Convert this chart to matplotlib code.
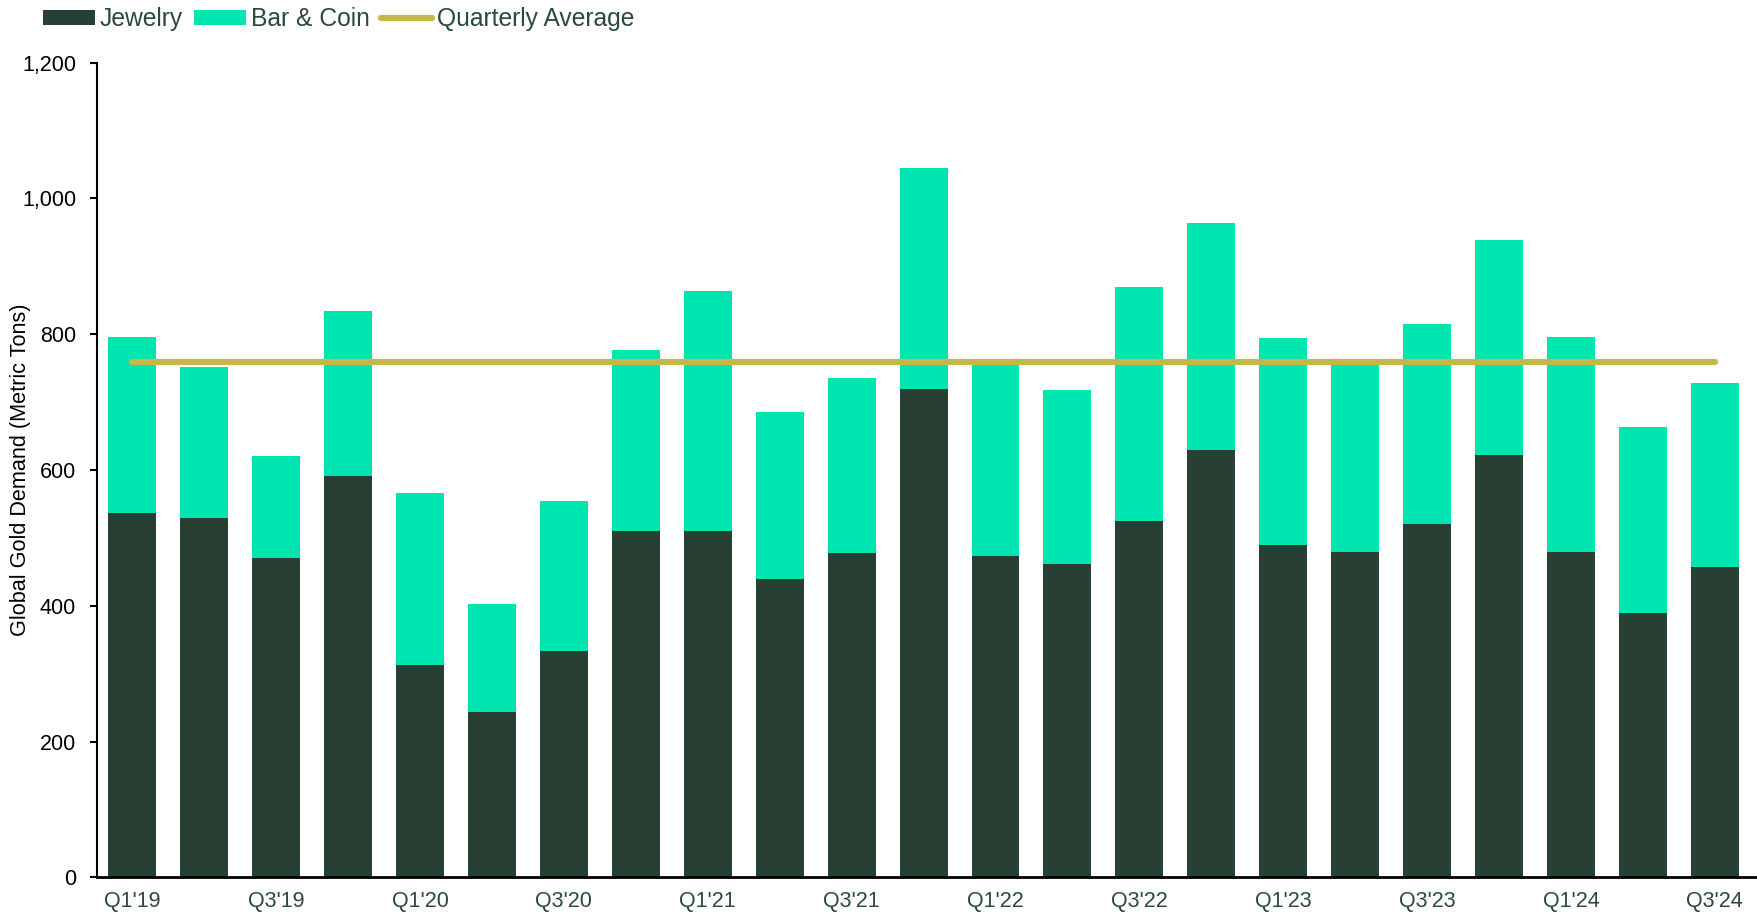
import numpy as np
import matplotlib.pyplot as plt
from matplotlib.ticker import FuncFormatter

plt.rcParams['font.family'] = ['Liberation Sans', 'DejaVu Sans']

quarters = ["Q1'19", "Q2'19", "Q3'19", "Q4'19",
            "Q1'20", "Q2'20", "Q3'20", "Q4'20",
            "Q1'21", "Q2'21", "Q3'21", "Q4'21",
            "Q1'22", "Q2'22", "Q3'22", "Q4'22",
            "Q1'23", "Q2'23", "Q3'23", "Q4'23",
            "Q1'24", "Q2'24", "Q3'24"]
jewelry = [536, 530, 470, 591, 312, 243, 333, 510, 510, 439, 477, 720,
           474, 461, 525, 629, 489, 479, 520, 622, 479, 390, 457]
total = [796, 751, 621, 834, 566, 403, 555, 777, 863, 685, 736, 1045,
         758, 718, 870, 964, 794, 757, 815, 939, 796, 664, 728]
bar_coin = [t - j for t, j in zip(total, jewelry)]
avg = 759

dark = '#283f33'
mint = '#00e6b0'
gold = '#c4b84a'
txt = '#2b4a3a'

fig = plt.figure(figsize=(17.58, 9.15), dpi=100)
ax = fig.add_axes([0.0552, 0.0412, 0.9448, 0.8903])

x = np.arange(len(quarters))
b1 = ax.bar(x, jewelry, width=0.667, color=dark, label='Jewelry', zorder=2)
b2 = ax.bar(x, bar_coin, width=0.667, bottom=jewelry, color=mint, label='Bar & Coin', zorder=2)
ln, = ax.plot([x[0], x[-1]], [avg, avg], color=gold, lw=4.5, solid_capstyle='round',
              label='Quarterly Average', zorder=3)

ax.set_xlim(-0.49, 22.6)
ax.set_ylim(0, 1200)
ax.set_yticks(range(0, 1201, 200))
ax.yaxis.set_major_formatter(FuncFormatter(lambda v, p: f'{int(v):,}'))
ax.set_xticks(x[::2])
ax.set_xticklabels(quarters[::2])

for s in ['top', 'right']:
    ax.spines[s].set_visible(False)
ax.spines['left'].set_linewidth(1.5)
ax.spines['bottom'].set_linewidth(2)
ax.tick_params(axis='y', labelsize=15.5, length=5, width=1.5, pad=10, colors='black')
ax.tick_params(axis='x', labelsize=15.5, length=0, pad=10, labelcolor=txt)
ax.set_ylabel('Global Gold Demand (Metric Tons)', fontsize=15.6)
ax.yaxis.set_label_coords(-0.0395, 0.5)

leg = fig.legend([b1, b2, ln], ['Jewelry', 'Bar & Coin', 'Quarterly Average'],
                 loc='upper left', bbox_to_anchor=(0.012, 1.016), ncol=3, frameon=False,
                 fontsize=17.7, handlelength=2.1, handletextpad=0.2,
                 columnspacing=0.45, handleheight=0.55)
for t in leg.get_texts():
    t.set_color(txt)

fig.savefig('out.png', dpi=100)
